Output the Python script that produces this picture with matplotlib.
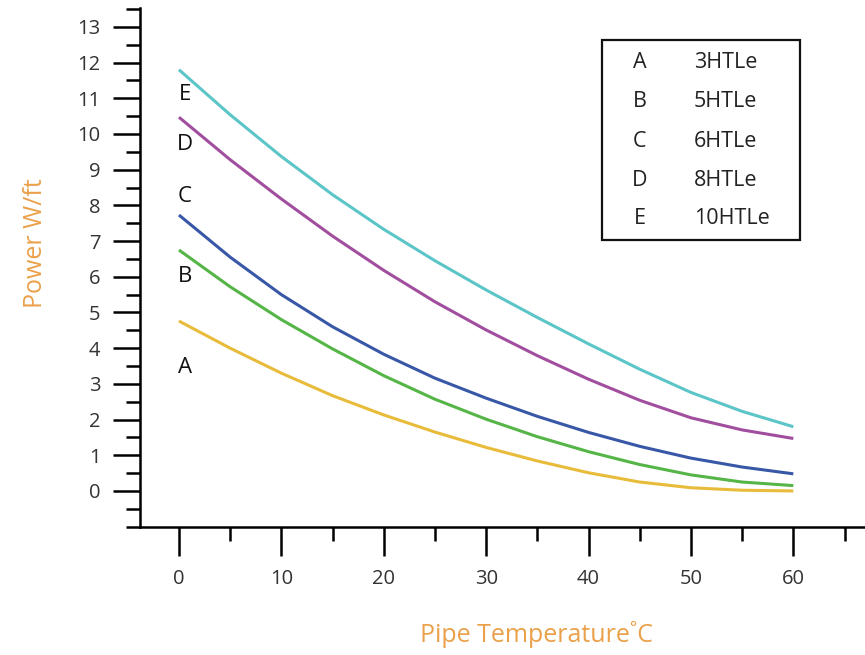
import matplotlib
matplotlib.use("Agg")
import matplotlib.pyplot as plt
from matplotlib.patches import Rectangle
from matplotlib.ticker import MultipleLocator

# pipe temperature (C) and power per foot (W/ft)
temps = [0, 5, 10, 15, 20, 25, 30, 35, 40, 45, 50, 55, 60]
power_a = [4.76, 4.0, 3.3, 2.67, 2.13, 1.65, 1.22, 0.84, 0.51, 0.25, 0.09, 0.02, 0.0]
power_b = [6.75, 5.72, 4.8, 3.98, 3.23, 2.57, 2.01, 1.52, 1.1, 0.74, 0.45, 0.25, 0.15]
power_c = [7.73, 6.55, 5.5, 4.6, 3.83, 3.16, 2.6, 2.09, 1.64, 1.25, 0.92, 0.67, 0.48]
power_d = [10.47, 9.28, 8.18, 7.14, 6.18, 5.3, 4.51, 3.79, 3.13, 2.54, 2.05, 1.71, 1.47]
power_e = [11.8, 10.54, 9.37, 8.3, 7.33, 6.45, 5.63, 4.86, 4.12, 3.41, 2.76, 2.23, 1.8]

letters = ["A", "B", "C", "D", "E"]
models = ["3HTLe", "5HTLe", "6HTLe", "8HTLe", "10HTLe"]
colors = ["#E8BC3A", "#55B547", "#3857A6", "#A14E9E", "#5BC5C8"]
series = [power_a, power_b, power_c, power_d, power_e]
label_y = [3.47, 6.0, 8.24, 9.7, 11.1]

plt.rcParams["font.family"] = ["Open Sans", "DejaVu Sans"]

fig = plt.figure(figsize=(8.65, 6.55), dpi=100)
ax = fig.add_axes([0.1618, 0.1954, 0.8382, 0.7924])

for vals, col in zip(series, colors):
    ax.plot(temps, vals, color=col, linewidth=2.2, solid_capstyle="butt",
            solid_joinstyle="round")

for let, ly in zip(letters, label_y):
    ax.text(0.6, ly, let, fontsize=16, color="#111111", ha="center", va="center")

ax.set_xlim(-3.81, 67.0)
ax.set_ylim(-1.01, 13.53)

ax.xaxis.set_major_locator(MultipleLocator(10))
ax.xaxis.set_minor_locator(MultipleLocator(5))
ax.yaxis.set_major_locator(MultipleLocator(1))
ax.yaxis.set_minor_locator(MultipleLocator(0.5))
ax.set_xticks(range(0, 61, 10))
ax.set_yticks(range(0, 14))

ax.tick_params(axis="x", which="major", direction="out", length=21, width=1.8,
               pad=9, labelsize=14.5, labelcolor="#333333")
ax.tick_params(axis="x", which="minor", direction="out", length=10, width=1.8)
ax.tick_params(axis="y", which="major", direction="out", length=19.5, width=1.8,
               pad=9, labelsize=14.5, labelcolor="#333333")
ax.tick_params(axis="y", which="minor", direction="out", length=10, width=1.8)

for side in ["top", "right"]:
    ax.spines[side].set_visible(False)
for side in ["left", "bottom"]:
    ax.spines[side].set_linewidth(1.8)

# legend box drawn by hand
ax.add_patch(Rectangle((41.3, 7.03), 19.4, 5.6, fill=False, edgecolor="#111111",
                       linewidth=1.6, zorder=5))
legend_rows = [11.99, 10.9, 9.8, 8.71, 7.62]
for let, name, ry in zip(letters, models, legend_rows):
    ax.text(45.0, ry, let, fontsize=15.5, color="#222222", ha="center", va="center")
    ax.text(50.3, ry, name, fontsize=15.5, color="#222222", ha="left", va="center")

fig.text(536 / 865, 1 - 634 / 655, "Pipe Temperature\u02daC", fontsize=18,
         color="#EBA04A", ha="center", va="center")
fig.text(35 / 865, 1 - 243 / 655, "Power W/ft", fontsize=18, color="#EBA04A",
         ha="center", va="center", rotation=90)

fig.savefig("out.png", dpi=100)
